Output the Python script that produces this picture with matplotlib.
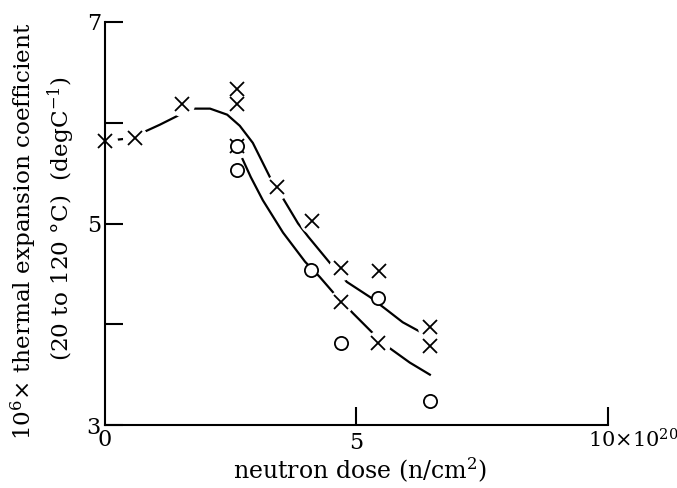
import matplotlib
matplotlib.use("Agg")
import matplotlib.pyplot as plt

plt.rcParams['font.family'] = ['DejaVu Serif']
plt.rcParams['mathtext.fontset'] = 'dejavuserif'

# crosses (x in 1e20 n/cm2, y in 1e-6 /degC)
cross_x = [0.0, 0.6, 1.53, 2.62, 2.62, 2.62, 3.42, 4.12, 4.69, 4.69, 5.45, 5.43, 6.46, 6.46]
cross_y = [5.82, 5.85, 6.19, 6.33, 6.19, 5.77, 5.36, 5.02, 4.56, 4.22, 4.53, 3.81, 3.97, 3.78]
# circles
circ_x = [2.62, 2.62, 4.10, 4.69, 5.43, 6.46]
circ_y = [5.77, 5.53, 4.54, 3.81, 4.26, 3.24]

# upper fitted curve
up_x = [0.0, 0.6, 0.74, 1.09, 1.49, 1.75, 2.09, 2.43, 2.68, 2.94, 3.10, 3.28, 3.54, 3.84, 4.04,
        4.47, 4.81, 5.27, 5.61, 5.92, 6.25]
up_y = [5.82, 5.85, 5.90, 5.98, 6.08, 6.14, 6.14, 6.08, 5.97, 5.80, 5.64, 5.46, 5.25, 5.00, 4.87,
        4.61, 4.42, 4.27, 4.14, 4.02, 3.93]
# lower fitted curve
lo_x = [2.62, 2.68, 2.90, 3.14, 3.54, 3.98, 4.27, 4.53, 4.93, 5.31, 5.67, 6.06, 6.46]
lo_y = [5.77, 5.70, 5.46, 5.23, 4.91, 4.62, 4.47, 4.32, 4.11, 3.92, 3.76, 3.62, 3.50]

fig = plt.figure(figsize=(6.77, 4.88), dpi=100)
ax = fig.add_axes([0.155, 0.129, 0.743, 0.826])
ax.set_xlim(0, 10)
ax.set_ylim(3, 7)

ax.plot(up_x, up_y, color='black', lw=1.6, zorder=2, clip_on=False)
ax.plot(lo_x, lo_y, color='black', lw=1.6, zorder=2, clip_on=False)
# white halo around crosses (the lines break around the markers)
ax.plot(cross_x, cross_y, linestyle='none', marker='o', ms=17, mfc='white', mec='white',
        zorder=2.2, clip_on=False)
ax.plot(cross_x, cross_y, linestyle='none', marker='x', ms=10, mew=1.3, color='black',
        zorder=4, clip_on=False)
ax.plot(circ_x, circ_y, linestyle='none', marker='o', ms=9.5, mfc='white', mec='black',
        mew=1.3, zorder=5, clip_on=False)

for s in ['top', 'right']:
    ax.spines[s].set_visible(False)
for s in ['left', 'bottom']:
    ax.spines[s].set_linewidth(1.5)
    ax.spines[s].set_zorder(3)

ax.set_yticks([3, 4, 5, 6, 7])
ax.set_yticklabels(['3', '', '5', '', '7'])
ax.set_xticks([5, 10])
ax.set_xticklabels(['5', ''])
ax.tick_params(axis='both', direction='in', length=13, width=1.5, labelsize=16)
ax.tick_params(axis='y', pad=3)
ax.tick_params(axis='x', pad=5)
ax.text(0, 2.85, '0', ha='center', va='center', fontsize=16)
ax.text(9.6, 2.85, r'10×10$^{20}$', ha='left', va='center', fontsize=15)

ax.set_xlabel(r'neutron dose (n/cm$^2$)', fontsize=17)
ax.xaxis.label.set_va('center')
ax.xaxis.set_label_coords(0.507, -0.113)
fig.text(0.036, 0.527, r'10$^6$× thermal expansion coefficient', rotation=90,
         ha='center', va='center', fontsize=16.7)
fig.text(0.09, 0.551, r'(20 to 120 °C)  (degC$^{-1}$)', rotation=90,
         ha='center', va='center', fontsize=16.7)

fig.savefig('out.png', dpi=100)
